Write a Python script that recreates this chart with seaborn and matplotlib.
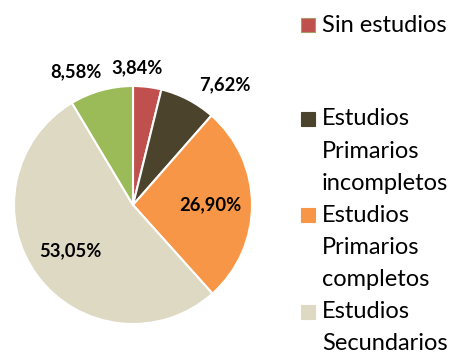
import matplotlib
matplotlib.use("Agg")
import matplotlib.pyplot as plt
from matplotlib.patches import Rectangle
import seaborn as sns
import numpy as np

# Education level distribution
categories = [
    "Sin estudios",
    "Estudios Primarios incompletos",
    "Estudios Primarios completos",
    "Estudios Secundarios",
    "Estudios Superiores",
]
values = [3.84, 7.62, 26.90, 53.05, 8.58]
value_labels = ["3,84%", "7,62%", "26,90%", "53,05%", "8,58%"]
legend_lines = [
    ["Sin estudios"],
    ["Estudios", "Primarios", "incompletos"],
    ["Estudios", "Primarios", "completos"],
    ["Estudios", "Secundarios"],
]
colors = ["#C0504D", "#4B432B", "#F79646", "#DDD9C3", "#9BBB59"]

sns.set_theme(style="white")
plt.rcParams["font.family"] = ["Lato", "DejaVu Sans"]

W, H = 457, 353
fig = plt.figure(figsize=(W / 100, H / 100), dpi=100)
fig.patch.set_facecolor("white")

# pie axes: centre (133, 205) px, radius 119 px
cx, cy, r = 133, 205, 119
ax = fig.add_axes([(cx - r) / W, (H - cy - r) / H, 2 * r / W, 2 * r / H])
wedges, _ = ax.pie(
    values,
    colors=colors,
    startangle=90,
    counterclock=False,
    wedgeprops=dict(edgecolor="white", linewidth=1.5),
)
ax.set_xlim(-1, 1)
ax.set_ylim(-1, 1)
ax.set_aspect("equal")
ax.axis("off")

# label placement: inside for large slices, outside above for small ones
outside_pos = {0: (0.03, 1.15), 1: (0.77, 1.01), 4: (-0.48, 1.12)}
for i, (w, lab) in enumerate(zip(wedges, value_labels)):
    if i in outside_pos:
        x, y = outside_pos[i]
    else:
        ang = np.deg2rad((w.theta1 + w.theta2) / 2)
        x, y = 0.65 * np.cos(ang), 0.65 * np.sin(ang)
    ax.text(x, y, lab, ha="center", va="center", fontsize=13.2,
            fontweight="bold", color="black", clip_on=False)

# legend
line_y = [[25], [119, 151, 183], [215, 247, 279], [312, 343]]
for k, (lines, ys) in enumerate(zip(legend_lines, line_y)):
    sq = 14
    fig.patches.append(Rectangle(((301) / W, (H - ys[0] - sq / 2) / H), sq / W, sq / H,
                                 transform=fig.transFigure, facecolor=colors[k],
                                 edgecolor="#A89A6A" if k == 0 else colors[k],
                                 linewidth=0.8))
    for txt, y in zip(lines, ys):
        fig.text(322 / W, (H - y) / H, txt, ha="left", va="center",
                 fontsize=17, color="black")

fig.savefig("out.png", dpi=100, facecolor="white")
